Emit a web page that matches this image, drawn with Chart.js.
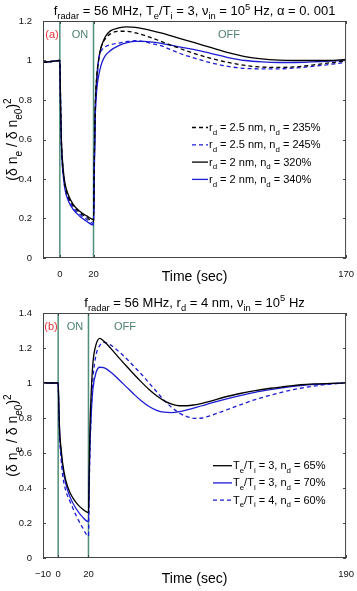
<!DOCTYPE html>
<html>
<head>
<meta charset="utf-8">
<script src="https://cdn.jsdelivr.net/npm/chart.js@4"></script>
<style>
	body { margin: 0; background: #fff; }
	canvas { position: absolute; left: 0; }
	#chart-a { top: 0; }
	#chart-b { top: 290px; }
</style>
</head>
<body>
<canvas id="chart-a" width="357" height="290"></canvas>
<canvas id="chart-b" width="357" height="301"></canvas>
<script>
// PANEL (a) DATA
const timeA = [-10, -5, 0, 0.5, 1, 2, 3, 5, 8, 12, 16, 20, 20.5, 21, 22, 23, 24, 25, 27, 30, 35, 40, 45, 50, 55, 60, 70, 80, 90, 100, 110, 120, 130, 140, 150, 160, 170];
const blackDashA = [0.99, 0.995, 1.0, 0.74, 0.57, 0.44, 0.37, 0.31, 0.265, 0.23, 0.205, 0.185, 0.5, 0.76, 0.93, 1.0, 1.05, 1.08, 1.11, 1.135, 1.148, 1.148, 1.14, 1.128, 1.113, 1.097, 1.065, 1.035, 1.01, 0.99, 0.975, 0.967, 0.965, 0.968, 0.977, 0.988, 0.998];
const blueDashA = [0.99, 0.995, 1.0, 0.74, 0.56, 0.43, 0.36, 0.30, 0.255, 0.22, 0.195, 0.175, 0.48, 0.72, 0.88, 1.0, 1.04, 1.055, 1.07, 1.08, 1.088, 1.097, 1.1, 1.095, 1.085, 1.075, 1.04, 1.012, 0.988, 0.97, 0.96, 0.958, 0.958, 0.962, 0.97, 0.98, 0.99];
const blackA = [0.99, 0.995, 1.0, 0.75, 0.58, 0.45, 0.38, 0.32, 0.27, 0.235, 0.213, 0.195, 0.5, 0.75, 0.92, 1.0, 1.05, 1.08, 1.12, 1.15, 1.165, 1.17, 1.168, 1.16, 1.15, 1.14, 1.115, 1.09, 1.065, 1.04, 1.02, 1.008, 1.002, 1.0, 1.0, 1.0, 1.005];
const blueA = [0.99, 0.995, 1.0, 0.73, 0.55, 0.42, 0.35, 0.29, 0.245, 0.21, 0.185, 0.167, 0.45, 0.7, 0.86, 0.92, 0.96, 0.99, 1.025, 1.05, 1.075, 1.09, 1.097, 1.097, 1.093, 1.087, 1.07, 1.055, 1.035, 1.015, 1.0, 0.993, 0.99, 0.99, 0.993, 0.997, 1.0];
const legendA = ['r_{d} = 2.5 nm, n_{d} = 235%', 'r_{d} = 2.5 nm, n_{d} = 245%', 'r_{d} = 2 nm, n_{d} = 320%', 'r_{d} = 2 nm, n_{d} = 340%'];
const titleA = 'f_{radar} = 56 MHz, T_{e}/T_{i} = 3, \u03bd_{in} = 10^{5} Hz, \u03b1 = 0. 001';
const xTicksA = [0, 20, 170];
const yTicksA = [0, 0.2, 0.4, 0.6, 0.8, 1, 1.2];

// PANEL (b) DATA
const timeB = [-10, -5, 0, 0.5, 1, 2, 3, 5, 8, 12, 16, 20, 20.5, 21, 22, 23, 25, 27.5, 30, 35, 40, 45, 50, 55, 60, 65, 70, 75, 80, 85, 90, 95, 100, 110, 120, 130, 140, 150, 160, 170, 180, 190];
const blackB = [1.0, 1.0, 1.0, 0.85, 0.72, 0.62, 0.54, 0.445, 0.37, 0.315, 0.28, 0.259, 0.5, 0.75, 0.98, 1.12, 1.22, 1.255, 1.24, 1.195, 1.145, 1.097, 1.05, 1.005, 0.963, 0.927, 0.898, 0.879, 0.87, 0.87, 0.875, 0.884, 0.895, 0.92, 0.94, 0.957, 0.97, 0.98, 0.99, 0.995, 0.998, 1.0];
const blueB = [1.0, 1.0, 1.0, 0.85, 0.71, 0.6, 0.52, 0.425, 0.345, 0.28, 0.235, 0.208, 0.45, 0.65, 0.85, 0.97, 1.06, 1.09, 1.088, 1.06, 1.02, 0.978, 0.936, 0.897, 0.866, 0.844, 0.833, 0.831, 0.836, 0.846, 0.858, 0.87, 0.883, 0.907, 0.928, 0.947, 0.962, 0.975, 0.985, 0.992, 0.997, 1.0];
const blueDashB = [1.0, 1.0, 1.0, 0.82, 0.68, 0.56, 0.47, 0.385, 0.32, 0.24, 0.175, 0.125, 0.4, 0.62, 0.88, 1.03, 1.16, 1.215, 1.232, 1.215, 1.18, 1.14, 1.095, 1.05, 1.0, 0.95, 0.9, 0.86, 0.828, 0.808, 0.798, 0.8, 0.812, 0.843, 0.875, 0.905, 0.93, 0.952, 0.97, 0.984, 0.994, 1.0];
const legendB = ['T_{e}/T_{i} = 3, n_{d} = 65%', 'T_{e}/T_{i} = 3, n_{d} = 70%', 'T_{e}/T_{i} = 4, n_{d} = 60%'];
const titleB = 'f_{radar} = 56 MHz, r_{d} = 4 nm, \u03bd_{in} = 10^{5} Hz';
const xTicksB = [-10, 0, 20, 190];
const yTicksB = [0, 0.2, 0.4, 0.6, 0.8, 1, 1.2, 1.4];

// RADAR SWITCHED ON AT 0 AND OFF AT 20
const switchTimes = [0, 20];

const FONT = '"Liberation Sans", Arial, sans-serif';
const BLUE = '#1c1cd2';
const GREEN = '#4f8f7b';

// SPLIT "a_{b}c^{d}" INTO NORMAL / SUB / SUPER PARTS
function richParts(str) {
	let parts = [];
	let re = /([_^])\{([^}]*)\}/g;
	let last = 0, m;
	while ((m = re.exec(str))) {
		if (m.index > last)
			parts.push({ t: str.slice(last, m.index), k: '' });
		parts.push({ t: m[2], k: m[1] });
		last = re.lastIndex;
	}
	if (last < str.length)
		parts.push({ t: str.slice(last), k: '' });
	return parts;
}

// DRAW TEXT WITH SUBSCRIPTS AND SUPERSCRIPTS
function drawRich(ctx, str, x, y, size, color, align) {
	let parts = richParts(str);
	let small = size * 0.72;
	ctx.save();
	ctx.fillStyle = color;
	ctx.textBaseline = 'alphabetic';
	ctx.textAlign = 'left';
	let w = 0;
	parts.forEach(p => {
		ctx.font = (p.k ? small : size) + 'px ' + FONT;
		p.w = ctx.measureText(p.t).width;
		w += p.w;
	});
	let cx = align === 'center' ? x - w / 2 : x;
	parts.forEach(p => {
		ctx.font = (p.k ? small : size) + 'px ' + FONT;
		let dy = p.k === '_' ? size * 0.34 : (p.k === '^' ? -size * 0.4 : 0);
		ctx.fillText(p.t, cx, y + dy);
		cx += p.w;
	});
	ctx.restore();
}

function makeDataset(label, xs, ys, color, dashed) {
	return {
		label: label,
		data: xs.map((x, i) => ({ x: x, y: ys[i] })),
		borderColor: color,
		borderWidth: 1.3,
		borderDash: dashed ? [4, 3] : [],
		pointRadius: 0,
		fill: false,
		cubicInterpolationMode: 'monotone'
	};
}

function panelPlugin(p) {
	return {
		id: 'panel',
		beforeDatasetsDraw(chart) {
			let ctx = chart.ctx, a = chart.chartArea, xs = chart.scales.x;
			ctx.save();
			ctx.strokeStyle = GREEN;
			ctx.lineWidth = 1.5;
			switchTimes.forEach(t => {
				let px = xs.getPixelForValue(t);
				ctx.beginPath();
				ctx.moveTo(px, a.top);
				ctx.lineTo(px, a.bottom);
				ctx.stroke();
			});
			ctx.restore();
		},
		afterDatasetsDraw(chart) {
			let ctx = chart.ctx, a = chart.chartArea, xs = chart.scales.x, ys = chart.scales.y;
			ctx.save();
			ctx.strokeStyle = '#444';
			ctx.lineWidth = 1;
			ctx.strokeRect(a.left + 0.5, a.top + 0.5, a.right - a.left - 1, a.bottom - a.top - 1);
			ctx.beginPath();
			p.yTicks.forEach(v => {
				let py = Math.round(ys.getPixelForValue(v)) + 0.5;
				ctx.moveTo(a.left, py); ctx.lineTo(a.left + 3, py);
				ctx.moveTo(a.right - 3, py); ctx.lineTo(a.right, py);
			});
			p.xTicks.forEach(v => {
				let px = Math.round(xs.getPixelForValue(v)) + 0.5;
				ctx.moveTo(px, a.bottom); ctx.lineTo(px, a.bottom - 3);
				ctx.moveTo(px, a.top); ctx.lineTo(px, a.top + 3);
			});
			ctx.stroke();
			ctx.restore();

			// PANEL LETTER, ON / OFF
			ctx.save();
			ctx.font = '11px ' + FONT;
			ctx.textAlign = 'center';
			ctx.textBaseline = 'alphabetic';
			ctx.fillStyle = '#e8323a';
			ctx.fillText(p.letter, p.letterX, p.labelY);
			ctx.fillStyle = '#4d7f70';
			ctx.fillText('ON', p.onX, p.labelY);
			ctx.fillText('OFF', p.offX, p.labelY);
			ctx.restore();

			// TITLE AND AXIS TITLES
			let midX = (a.left + a.right) / 2;
			drawRich(ctx, p.title, midX, p.titleY, 13, '#000', 'center');
			drawRich(ctx, 'Time (sec)', midX, p.xTitleY, 14, '#000', 'center');
			ctx.save();
			ctx.translate(17, (a.top + a.bottom) / 2);
			ctx.rotate(-Math.PI / 2);
			drawRich(ctx, '(\u03b4 n_{e} / \u03b4 n_{e0})^{2}', 0, 0, 14, '#000', 'center');
			ctx.restore();

			// LEGEND
			chart.data.datasets.forEach((ds, i) => {
				let ly = p.legendY + i * p.legendStep;
				ctx.save();
				ctx.strokeStyle = ds.borderColor;
				ctx.lineWidth = 1.3;
				ctx.setLineDash(ds.borderDash);
				ctx.beginPath();
				ctx.moveTo(p.legendX0, ly);
				ctx.lineTo(p.legendX1, ly);
				ctx.stroke();
				ctx.restore();
				drawRich(ctx, ds.label, p.legendX1 + 1, ly + 3.5, 11, '#000', 'left');
			});
		}
	};
}

function makeChart(id, datasets, p) {
	let ctx = document.getElementById(id);
	return new Chart(ctx, {
		type: 'line',
		data: { datasets: datasets },
		options: {
			responsive: false,
			animation: false,
			layout: { padding: { top: p.padTop, right: p.padRight, left: 0, bottom: 0 } },
			plugins: { legend: { display: false }, tooltip: { enabled: false } },
			scales: {
				x: {
					type: 'linear',
					min: p.xMin,
					max: p.xMax,
					grid: { display: false },
					border: { display: false },
					afterBuildTicks: s => { s.ticks = p.xTicks.map(v => ({ value: v })); },
					afterFit: s => { s.height = p.xAxisHeight; },
					ticks: {
						padding: 3,
						maxRotation: 0,
						autoSkip: false,
						color: '#111',
						font: { family: FONT, size: 9.5 },
						callback: v => v < 0 ? '\u2212' + Math.abs(v) : String(v)
					}
				},
				y: {
					min: 0,
					max: p.yMax,
					grid: { display: false },
					border: { display: false },
					afterBuildTicks: s => { s.ticks = p.yTicks.map(v => ({ value: v })); },
					afterFit: s => { s.width = 43; },
					ticks: {
						padding: 3,
						color: '#111',
						font: { family: FONT, size: 9.5 },
						callback: v => String(Math.round(v * 10) / 10)
					}
				}
			}
		},
		plugins: [panelPlugin(p)]
	});
}

makeChart('chart-a', [
	makeDataset(legendA[0], timeA, blackDashA, '#000', true),
	makeDataset(legendA[1], timeA, blueDashA, BLUE, true),
	makeDataset(legendA[2], timeA, blackA, '#000', false),
	makeDataset(legendA[3], timeA, blueA, BLUE, false)
], {
	padTop: 21, padRight: 8, xAxisHeight: 32,
	xMin: -10, xMax: 170, yMax: 1.2,
	xTicks: xTicksA, yTicks: yTicksA,
	title: titleA, titleY: 15, xTitleY: 281,
	letter: '(a)', letterX: 52, onX: 80, offX: 229, labelY: 37.5,
	legendX0: 192, legendX1: 208, legendY: 127.5, legendStep: 17.3
});

makeChart('chart-b', [
	makeDataset(legendB[0], timeB, blackB, '#000', false),
	makeDataset(legendB[1], timeB, blueB, BLUE, false),
	makeDataset(legendB[2], timeB, blueDashB, BLUE, true)
], {
	padTop: 23, padRight: 10, xAxisHeight: 33,
	xMin: -10, xMax: 190, yMax: 1.4,
	xTicks: xTicksB, yTicks: yTicksB,
	title: titleB, titleY: 16.5, xTitleY: 292.5,
	letter: '(b)', letterX: 51, onX: 75, offX: 125, labelY: 40,
	legendX0: 213, legendX1: 232, legendY: 175.7, legendStep: 17.2
});
</script>
</body>
</html>
